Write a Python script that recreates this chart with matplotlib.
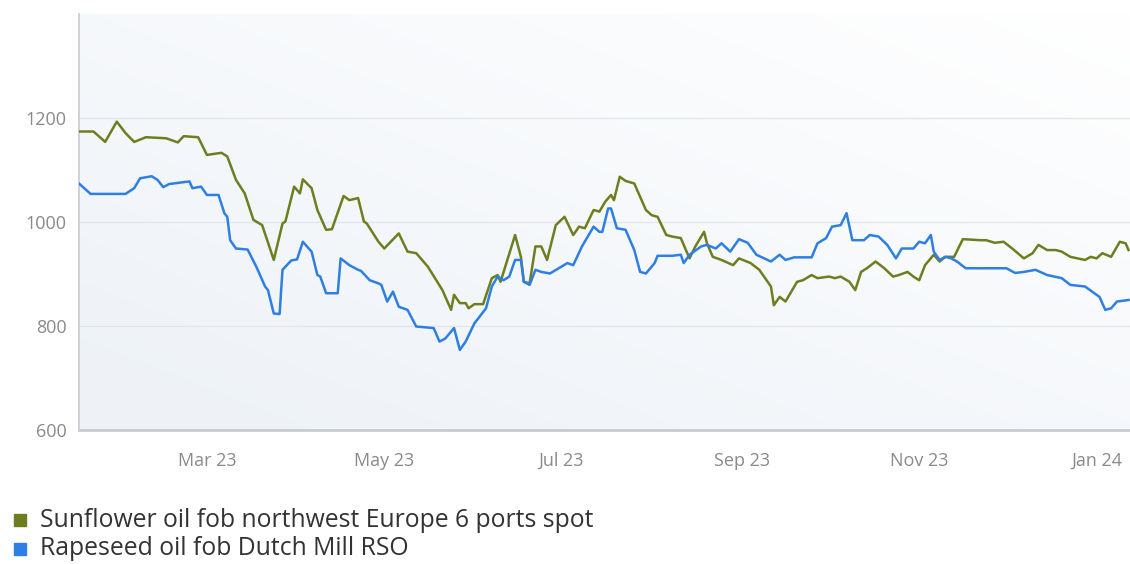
import numpy as np
import pandas as pd
import matplotlib
matplotlib.use("Agg")
import matplotlib.pyplot as plt
import matplotlib.dates as mdates

# Sunflower oil fob NW Europe 6 ports spot, $/t
sun_dates = ["2023-01-16", "2023-01-21", "2023-01-25", "2023-01-29", "2023-02-01", "2023-02-04",
             "2023-02-08", "2023-02-15", "2023-02-19", "2023-02-21", "2023-02-26", "2023-03-01",
             "2023-03-06", "2023-03-08", "2023-03-11", "2023-03-14", "2023-03-17", "2023-03-20",
             "2023-03-24", "2023-03-27", "2023-03-28", "2023-03-31", "2023-04-02", "2023-04-03",
             "2023-04-06", "2023-04-08", "2023-04-11", "2023-04-13", "2023-04-17", "2023-04-19",
             "2023-04-22", "2023-04-24", "2023-04-25", "2023-04-29", "2023-05-01", "2023-05-06",
             "2023-05-09", "2023-05-12", "2023-05-16", "2023-05-21", "2023-05-24", "2023-05-25",
             "2023-05-27", "2023-05-29", "2023-05-30", "2023-06-01", "2023-06-04", "2023-06-07",
             "2023-06-09", "2023-06-10", "2023-06-15", "2023-06-17", "2023-06-18", "2023-06-20",
             "2023-06-22", "2023-06-24", "2023-06-26", "2023-06-29", "2023-07-02", "2023-07-05",
             "2023-07-07", "2023-07-09", "2023-07-12", "2023-07-14", "2023-07-16", "2023-07-18",
             "2023-07-19", "2023-07-21", "2023-07-23", "2023-07-26", "2023-07-30", "2023-08-01",
             "2023-08-03", "2023-08-06", "2023-08-08", "2023-08-11", "2023-08-14", "2023-08-16",
             "2023-08-19", "2023-08-20", "2023-08-22", "2023-08-25", "2023-08-29", "2023-08-31",
             "2023-09-04", "2023-09-07", "2023-09-11", "2023-09-12", "2023-09-14", "2023-09-16",
             "2023-09-20", "2023-09-22", "2023-09-25", "2023-09-27", "2023-10-01", "2023-10-03",
             "2023-10-05", "2023-10-08", "2023-10-10", "2023-10-12", "2023-10-14", "2023-10-17",
             "2023-10-20", "2023-10-23", "2023-10-25", "2023-10-28", "2023-10-30", "2023-11-01",
             "2023-11-03", "2023-11-06", "2023-11-08", "2023-11-10", "2023-11-13", "2023-11-16",
             "2023-11-22", "2023-11-24", "2023-11-27", "2023-11-30", "2023-12-03", "2023-12-07",
             "2023-12-10", "2023-12-12", "2023-12-15", "2023-12-18", "2023-12-20", "2023-12-23",
             "2023-12-28", "2023-12-30", "2024-01-01", "2024-01-03", "2024-01-06", "2024-01-09",
             "2024-01-11", "2024-01-12"]
sun_values = [1174, 1174, 1154, 1193, 1171, 1154,
              1163, 1161, 1153, 1165, 1163, 1129,
              1133, 1126, 1081, 1055, 1004, 994,
              927, 997, 1001, 1068, 1055, 1082,
              1065, 1023, 985, 986, 1050, 1042,
              1046, 1001, 997, 962, 949, 978,
              943, 940, 914, 869, 831, 860,
              844, 844, 834, 842, 842, 892,
              898, 885, 975, 933, 885, 882,
              953, 953, 927, 994, 1010, 975,
              991, 988, 1023, 1020, 1039, 1052,
              1042, 1087, 1079, 1074, 1023, 1013,
              1010, 975, 972, 969, 930, 953,
              981, 959, 933, 927, 917, 930,
              921, 908, 876, 840, 856, 847,
              885, 888, 898, 892, 895, 892,
              895, 885, 869, 904, 911, 924,
              911, 895, 898, 904, 895, 888,
              917, 937, 924, 933, 933, 967,
              965, 965, 960, 962, 949, 930,
              940, 956, 946, 946, 943, 933,
              927, 933, 930, 940, 933, 962,
              959, 946]

# Rapeseed oil fob Dutch Mill RSO, $/t
rape_dates = ["2023-01-16", "2023-01-20", "2023-02-01", "2023-02-04", "2023-02-06", "2023-02-10",
              "2023-02-12", "2023-02-14", "2023-02-16", "2023-02-23", "2023-02-24", "2023-02-27",
              "2023-03-01", "2023-03-05", "2023-03-07", "2023-03-08", "2023-03-09", "2023-03-11",
              "2023-03-15", "2023-03-18", "2023-03-21", "2023-03-22", "2023-03-24", "2023-03-26",
              "2023-03-27", "2023-03-30", "2023-04-01", "2023-04-03", "2023-04-06", "2023-04-08",
              "2023-04-09", "2023-04-11", "2023-04-15", "2023-04-16", "2023-04-19", "2023-04-22",
              "2023-04-23", "2023-04-26", "2023-04-29", "2023-04-30", "2023-05-02", "2023-05-04",
              "2023-05-06", "2023-05-09", "2023-05-12", "2023-05-18", "2023-05-20", "2023-05-22",
              "2023-05-25", "2023-05-27", "2023-05-29", "2023-06-01", "2023-06-05", "2023-06-07",
              "2023-06-09", "2023-06-11", "2023-06-13", "2023-06-15", "2023-06-17", "2023-06-18",
              "2023-06-20", "2023-06-22", "2023-06-24", "2023-06-27", "2023-06-30", "2023-07-03",
              "2023-07-05", "2023-07-08", "2023-07-12", "2023-07-14", "2023-07-15", "2023-07-17",
              "2023-07-18", "2023-07-20", "2023-07-23", "2023-07-26", "2023-07-28", "2023-07-30",
              "2023-08-02", "2023-08-03", "2023-08-08", "2023-08-11", "2023-08-12", "2023-08-14",
              "2023-08-18", "2023-08-20", "2023-08-23", "2023-08-25", "2023-08-28", "2023-08-31",
              "2023-09-03", "2023-09-06", "2023-09-11", "2023-09-14", "2023-09-16", "2023-09-19",
              "2023-09-25", "2023-09-27", "2023-09-30", "2023-10-02", "2023-10-05", "2023-10-07",
              "2023-10-09", "2023-10-13", "2023-10-15", "2023-10-18", "2023-10-21", "2023-10-24",
              "2023-10-26", "2023-10-30", "2023-11-01", "2023-11-03", "2023-11-05", "2023-11-06",
              "2023-11-08", "2023-11-10", "2023-11-12", "2023-11-14", "2023-11-17", "2023-12-01",
              "2023-12-04", "2023-12-07", "2023-12-11", "2023-12-15", "2023-12-20", "2023-12-23",
              "2023-12-28", "2024-01-02", "2024-01-04", "2024-01-06", "2024-01-08", "2024-01-12"]
rape_values = [1074, 1054, 1054, 1065, 1084, 1088,
               1081, 1067, 1073, 1078, 1065, 1068,
               1052, 1052, 1017, 1010, 965, 949,
               947, 914, 876, 869, 824, 823,
               908, 926, 928, 962, 943, 898,
               895, 863, 863, 930, 917, 908,
               906, 888, 882, 879, 847, 866,
               837, 831, 799, 796, 770, 776,
               796, 754, 770, 805, 834, 876,
               895, 888, 895, 927, 927, 885,
               879, 908, 904, 901, 911, 921,
               917, 953, 991, 981, 981, 1026,
               1026, 988, 985, 946, 904, 901,
               921, 935, 935, 937, 921, 937,
               953, 956, 949, 959, 943, 967,
               960, 937, 924, 937, 927, 932,
               932, 959, 969, 991, 994, 1017,
               965, 965, 975, 972, 956, 930,
               949, 949, 962, 959, 975, 943,
               927, 933, 930, 924, 911, 911,
               902, 904, 908, 898, 892, 879,
               876, 856, 831, 834, 847, 850]

series_labels = ["Sunflower oil fob northwest Europe 6 ports spot", "Rapeseed oil fob Dutch Mill RSO"]
colors = ["#6e7d1f", "#2e7fe3"]
y_ticks = [600, 800, 1000, 1200]

plt.rcParams["font.family"] = ["Open Sans", "DejaVu Sans"]

fig = plt.figure(figsize=(11.3, 5.64), dpi=100)
ax = fig.add_axes([0.0699, 0.2376, 0.9301, 0.7376])

# soft panel tint, lighter towards the top right
gx, gy = np.meshgrid(np.linspace(0, 1, 200), np.linspace(0, 1, 100))
shade = np.clip(0.55 * (1 - gx) + 0.55 * gy, 0, 1)
grad = np.ones((100, 200, 3))
base = np.array([0.935, 0.952, 0.972])
for c in range(3):
    grad[..., c] = 1 - (1 - base[c]) * shade
ax.imshow(grad, extent=[0, 1, 0, 1], transform=ax.transAxes, origin="upper",
          aspect="auto", zorder=0, interpolation="bilinear")

ax.plot(pd.to_datetime(sun_dates), sun_values, color=colors[0], lw=1.8, zorder=3)
ax.plot(pd.to_datetime(rape_dates), rape_values, color=colors[1], lw=1.8, zorder=3)

ax.set_ylim(600, 1400)
ax.set_xlim(pd.Timestamp("2023-01-16"), pd.Timestamp("2024-01-12 12:00"))
ax.set_yticks(y_ticks)
ax.yaxis.grid(True, color="#e3e6ea", lw=1.0, zorder=1)
ax.set_axisbelow(True)

ax.xaxis.set_major_locator(mdates.MonthLocator(bymonth=[1, 3, 5, 7, 9, 11]))
ax.xaxis.set_major_formatter(mdates.DateFormatter("%b %y"))
ax.tick_params(axis="both", length=0, labelsize=13, labelcolor="#8a8a8a")
ax.tick_params(axis="x", pad=16)
ax.tick_params(axis="y", pad=9)

for side in ["top", "right"]:
    ax.spines[side].set_visible(False)
ax.spines["left"].set_color("#c8cbd0")
ax.spines["left"].set_linewidth(1.2)
ax.spines["bottom"].set_color("#c8cbd0")
ax.spines["bottom"].set_linewidth(2.0)

# legend as squares with labels below the axis
for i, (lab, col) in enumerate(zip(series_labels, colors)):
    yy = 0.078 - i * 0.05
    fig.patches.append(plt.Rectangle((14 / 1130, yy - 0.0115), 12 / 1130, 0.0213,
                                     transform=fig.transFigure, color=col, figure=fig))
    fig.text(40 / 1130, yy, lab, fontsize=17.8, color="#333333", va="center", ha="left")

fig.savefig("out.png", dpi=100)
